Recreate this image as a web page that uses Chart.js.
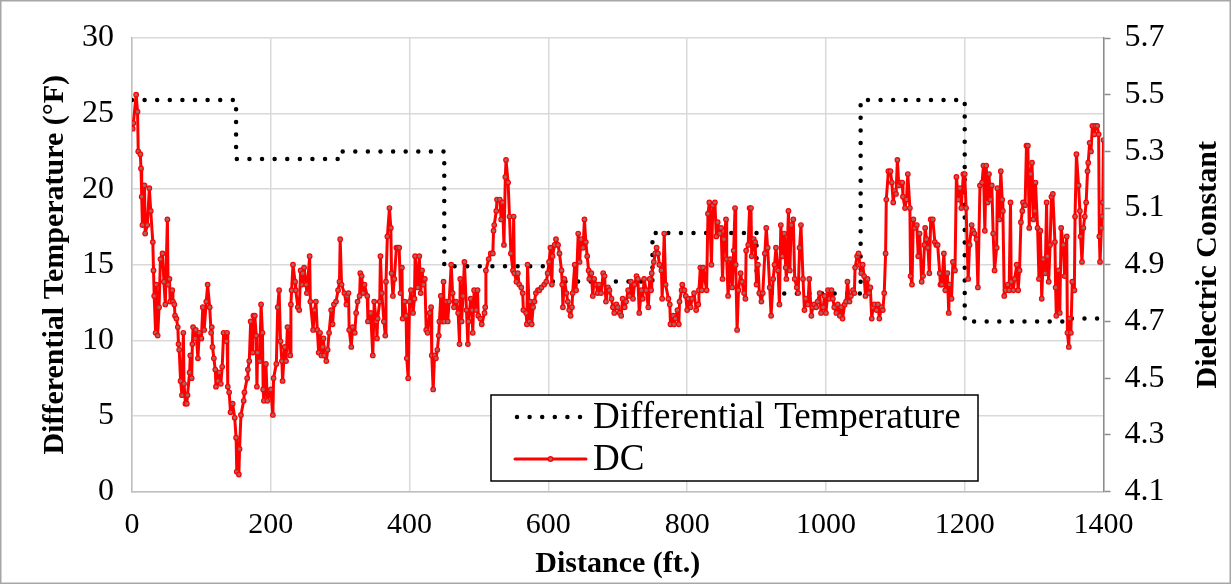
<!DOCTYPE html>
<html>
<head>
<meta charset="utf-8">
<title>Differential Temperature and DC</title>
<script src="https://cdn.jsdelivr.net/npm/chart.js@4.4.1/dist/chart.umd.min.js"></script>
<style>
  html, body { margin: 0; padding: 0; background: #fff; }
  #wrap { width: 1231px; height: 584px; }
</style>
</head>
<body>
<div id="wrap"><canvas id="chart" width="1231" height="584"></canvas></div>
<script>
const distTicks = [0, 200, 400, 600, 800, 1000, 1200, 1400];
const tempTicks = [0, 5, 10, 15, 20, 25, 30];
const dcTicks = [4.1, 4.3, 4.5, 4.7, 4.9, 5.1, 5.3, 5.5, 5.7];

// differential temperature, one level per section
const tempDist = [0, 150, 150, 300, 300, 450, 450, 600, 600, 750, 750, 900, 900, 1050, 1050, 1200, 1200, 1350, 1350, 1400];
const tempVal = [25.9, 25.9, 22.0, 22.0, 22.5, 22.5, 14.9, 14.9, 13.9, 13.9, 17.1, 17.1, 13.1, 13.1, 25.9, 25.9, 11.25, 11.25, 11.45, 11.45];

// dielectric constant readings along the section (ft)
const dcDist = [
  1, 2, 6, 8, 9, 12, 13, 14, 15, 18, 19, 22, 25, 27, 30, 31, 32, 34, 35, 37,
  39, 41, 44, 46, 48, 51, 52, 54, 55, 58, 59, 61, 62, 64, 66, 67, 68, 70, 72, 74,
  75, 77, 79, 80, 83, 84, 86, 87, 88, 91, 92, 95, 97, 100, 102, 104, 107, 109, 112, 114,
  115, 116, 118, 120, 121, 124, 126, 128, 130, 132, 136, 137, 138, 140, 142, 145, 148, 150, 151, 154,
  155, 157, 161, 162, 166, 167, 169, 171, 174, 175, 177, 179, 180, 181, 184, 186, 188, 189, 190, 193,
  195, 200, 203, 204, 208, 210, 212, 214, 216, 217, 220, 222, 224, 228, 229, 230, 232, 235, 236, 239,
  241, 243, 245, 246, 248, 251, 252, 256, 257, 261, 263, 265, 267, 269, 271, 273, 275, 276, 277, 280,
  282, 284, 287, 289, 291, 294, 297, 299, 300, 302, 306, 309, 310, 312, 313, 316, 318, 321, 323, 325,
  328, 329, 331, 333, 335, 339, 340, 344, 347, 349, 352, 353, 354, 357, 358, 360, 363, 365, 366, 368,
  371, 373, 374, 376, 378, 381, 383, 385, 387, 389, 390, 393, 395, 396, 398, 400, 402, 405, 407, 408,
  412, 414, 416, 418, 420, 422, 424, 426, 429, 431, 432, 434, 436, 438, 440, 442, 443, 445, 447, 449,
  450, 453, 455, 457, 460, 462, 464, 467, 470, 472, 473, 475, 477, 479, 482, 484, 485, 488, 490, 491,
  493, 496, 498, 499, 502, 504, 508, 509, 510, 514, 517, 520, 521, 522, 525, 526, 530, 532, 534, 536,
  538, 539, 542, 544, 546, 549, 550, 551, 554, 556, 558, 561, 563, 564, 568, 569, 570, 573, 574, 576,
  578, 580, 582, 585, 587, 590, 594, 597, 599, 601, 603, 605, 606, 609, 611, 614, 616, 619, 620, 621,
  623, 626, 628, 630, 632, 634, 635, 638, 640, 643, 645, 647, 650, 652, 654, 656, 658, 659, 662, 664,
  666, 669, 671, 673, 676, 679, 681, 683, 686, 688, 691, 693, 695, 698, 700, 703, 705, 707, 710, 712,
  715, 717, 719, 722, 724, 727, 729, 731, 734, 736, 738, 741, 744, 746, 748, 749, 752, 754, 756, 758,
  760, 763, 764, 767, 769, 773, 775, 776, 780, 781, 783, 786, 788, 789, 792, 793, 796, 798, 800, 802,
  805, 807, 810, 813, 816, 817, 819, 821, 823, 828, 830, 832, 835, 837, 840, 842, 844, 847, 849, 851,
  853, 856, 857, 859, 862, 865, 867, 869, 870, 872, 874, 877, 879, 882, 884, 885, 888, 890, 892, 893,
  896, 898, 900, 902, 904, 907, 909, 912, 914, 916, 919, 921, 924, 926, 928, 931, 933, 935, 937, 940,
  942, 943, 946, 948, 950, 953, 955, 958, 960, 962, 964, 967, 969, 971, 974, 976, 979, 981, 983, 986,
  988, 991, 993, 996, 998, 1000, 1003, 1005, 1008, 1010, 1012, 1015, 1017, 1020, 1022, 1024, 1027, 1029, 1031, 1034,
  1036, 1039, 1041, 1042, 1045, 1047, 1049, 1051, 1053, 1055, 1057, 1060, 1062, 1064, 1066, 1068, 1070, 1073, 1075, 1077,
  1080, 1082, 1084, 1086, 1087, 1090, 1093, 1095, 1097, 1099, 1101, 1103, 1105, 1108, 1110, 1111, 1114, 1116, 1118, 1121,
  1122, 1124, 1126, 1128, 1131, 1133, 1135, 1138, 1140, 1142, 1143, 1145, 1147, 1149, 1151, 1154, 1157, 1159, 1161, 1164,
  1165, 1167, 1170, 1172, 1175, 1177, 1178, 1181, 1183, 1186, 1188, 1191, 1193, 1195, 1198, 1200, 1202, 1205, 1207, 1210,
  1212, 1214, 1217, 1219, 1222, 1225, 1227, 1229, 1231, 1233, 1235, 1237, 1239, 1241, 1243, 1246, 1247, 1250, 1252, 1254,
  1255, 1257, 1259, 1262, 1264, 1266, 1267, 1270, 1272, 1275, 1277, 1279, 1281, 1283, 1284, 1287, 1289, 1291, 1293, 1295,
  1297, 1299, 1301, 1302, 1305, 1307, 1309, 1311, 1313, 1316, 1318, 1319, 1321, 1323, 1325, 1327, 1330, 1331, 1332, 1335,
  1337, 1339, 1342, 1344, 1347, 1348, 1350, 1351, 1353, 1355, 1358, 1359, 1361, 1364, 1366, 1367, 1369, 1371, 1373, 1375,
  1377, 1378, 1380, 1382, 1384, 1387, 1388, 1391, 1393, 1394, 1395, 1397, 1398, 1399, 1400
];
const dcVal = [
  5.38, 5.40, 5.50, 5.44, 5.30, 5.29, 5.24, 5.14, 5.04, 5.18, 5.01, 5.04, 5.17, 5.09, 4.98, 4.88, 4.79, 4.66, 4.83, 4.65,
  4.75, 4.92, 4.94, 4.84, 4.76, 5.06, 4.83, 4.85, 4.77, 4.81, 4.77, 4.76, 4.72, 4.71, 4.68, 4.62, 4.60, 4.49, 4.44, 4.66,
  4.48, 4.41, 4.41, 4.44, 4.52, 4.58, 4.50, 4.62, 4.68, 4.64, 4.67, 4.57, 4.66, 4.64, 4.75, 4.67, 4.77, 4.83, 4.75, 4.66,
  4.68, 4.61, 4.57, 4.53, 4.47, 4.49, 4.52, 4.48, 4.54, 4.66, 4.63, 4.66, 4.47, 4.45, 4.38, 4.41, 4.36, 4.29, 4.17, 4.16,
  4.25, 4.37, 4.42, 4.45, 4.50, 4.53, 4.56, 4.70, 4.59, 4.72, 4.72, 4.65, 4.47, 4.59, 4.56, 4.76, 4.66, 4.46, 4.42, 4.55,
  4.42, 4.46, 4.37, 4.50, 4.55, 4.75, 4.81, 4.63, 4.56, 4.49, 4.61, 4.56, 4.68, 4.58, 4.76, 4.81, 4.90, 4.84, 4.81, 4.75,
  4.74, 4.88, 4.83, 4.87, 4.89, 4.83, 4.80, 4.93, 4.77, 4.67, 4.74, 4.77, 4.67, 4.59, 4.66, 4.58, 4.61, 4.64, 4.58, 4.56,
  4.60, 4.66, 4.74, 4.69, 4.76, 4.77, 4.81, 4.84, 4.99, 4.83, 4.80, 4.76, 4.79, 4.80, 4.67, 4.61, 4.68, 4.66, 4.73, 4.77,
  4.79, 4.87, 4.86, 4.80, 4.83, 4.79, 4.70, 4.73, 4.58, 4.77, 4.70, 4.64, 4.71, 4.77, 4.93, 4.80, 4.70, 4.65, 4.84, 5.00,
  5.10, 5.03, 4.87, 4.79, 4.85, 4.96, 4.96, 4.96, 4.80, 4.89, 4.71, 4.77, 4.72, 4.57, 4.50, 4.77, 4.81, 4.73, 4.78, 4.93,
  4.82, 4.93, 4.80, 4.88, 4.83, 4.85, 4.67, 4.66, 4.73, 4.75, 4.58, 4.46, 4.58, 4.57, 4.60, 4.65, 4.70, 4.79, 4.70, 4.84,
  4.70, 4.77, 4.70, 4.77, 4.90, 4.80, 4.75, 4.77, 4.73, 4.62, 4.85, 4.70, 4.79, 4.91, 4.74, 4.62, 4.70, 4.78, 4.74, 4.66,
  4.81, 4.74, 4.81, 4.72, 4.71, 4.69, 4.73, 4.75, 4.88, 4.92, 4.94, 4.94, 5.02, 5.04, 5.09, 5.13, 5.13, 5.06, 5.12, 4.97,
  5.21, 5.27, 5.19, 5.07, 4.94, 4.88, 5.07, 4.87, 4.84, 4.87, 4.83, 4.82, 4.80, 4.74, 4.73, 4.69, 4.90, 4.70, 4.77, 4.69,
  4.75, 4.77, 4.80, 4.81, 4.81, 4.82, 4.83, 4.84, 4.87, 4.91, 4.96, 4.83, 4.93, 4.97, 4.99, 4.97, 4.94, 4.88, 4.83, 4.75,
  4.85, 4.80, 4.77, 4.74, 4.72, 4.75, 4.80, 4.90, 4.81, 5.01, 4.91, 4.99, 4.96, 5.06, 4.98, 4.93, 4.88, 4.85, 4.87, 4.79,
  4.85, 4.83, 4.80, 4.83, 4.80, 4.87, 4.86, 4.77, 4.82, 4.81, 4.78, 4.75, 4.73, 4.76, 4.75, 4.73, 4.72, 4.78, 4.75, 4.77,
  4.81, 4.79, 4.84, 4.78, 4.83, 4.86, 4.85, 4.73, 4.81, 4.78, 4.85, 4.81, 4.75, 4.85, 4.81, 4.87, 4.91, 4.94, 4.96, 4.94,
  4.90, 4.88, 4.78, 5.01, 4.83, 4.78, 4.76, 4.69, 4.72, 4.69, 4.71, 4.74, 4.69, 4.77, 4.81, 4.83, 4.81, 4.79, 4.74, 4.78,
  4.75, 4.78, 4.80, 4.74, 4.76, 4.81, 4.89, 4.81, 4.89, 4.81, 5.08, 5.12, 4.90, 5.11, 5.12, 5.00, 5.05, 5.01, 5.03, 4.85,
  4.99, 5.06, 4.92, 4.79, 4.92, 4.82, 4.95, 5.10, 4.90, 4.67, 4.81, 4.87, 4.84, 4.80, 4.78, 4.95, 4.97, 5.10, 5.10, 4.93,
  4.99, 4.98, 4.83, 4.90, 4.80, 4.77, 4.80, 4.94, 5.03, 4.96, 4.82, 4.72, 4.85, 4.90, 4.96, 4.88, 4.76, 5.04, 4.93, 5.01,
  4.89, 4.85, 5.09, 4.88, 5.04, 5.06, 4.85, 4.82, 4.80, 4.96, 5.04, 4.85, 4.74, 4.78, 4.76, 4.85, 4.72, 4.75, 4.76, 4.75,
  4.77, 4.80, 4.73, 4.75, 4.79, 4.73, 4.81, 4.78, 4.81, 4.78, 4.75, 4.73, 4.76, 4.72, 4.75, 4.71, 4.76, 4.77, 4.84, 4.77,
  4.79, 4.81, 4.80, 4.89, 4.93, 4.94, 4.90, 4.87, 4.90, 4.86, 4.79, 4.85, 4.80, 4.82, 4.71, 4.75, 4.76, 4.74, 4.76, 4.71,
  4.75, 4.74, 4.80, 4.94, 5.13, 5.23, 5.23, 5.19, 5.12, 5.16, 5.15, 5.27, 5.18, 5.19, 5.19, 5.14, 5.10, 5.13, 5.22, 5.10,
  4.86, 4.83, 5.06, 5.03, 5.04, 4.93, 5.01, 4.84, 4.86, 4.97, 5.03, 4.99, 4.96, 4.87, 5.06, 5.06, 4.98, 4.97, 4.97, 4.87,
  4.83, 4.83, 4.94, 4.81, 4.87, 4.73, 4.83, 4.78, 4.91, 4.88, 5.21, 5.13, 5.17, 5.10, 5.22, 5.22, 5.10, 4.85, 4.97, 5.04,
  5.02, 5.01, 4.99, 4.82, 5.18, 5.19, 5.25, 5.02, 5.25, 5.12, 5.22, 5.13, 5.18, 5.01, 4.88, 4.96, 5.17, 5.06, 5.23, 5.13,
  5.09, 4.79, 4.81, 4.83, 4.81, 5.12, 4.84, 4.81, 4.85, 4.90, 4.81, 4.88, 5.05, 5.09, 5.12, 5.11, 5.32, 5.32, 5.03, 5.22,
  5.26, 5.06, 5.09, 5.19, 5.03, 4.85, 5.02, 4.78, 4.92, 4.87, 5.12, 4.93, 4.84, 4.97, 5.14, 5.15, 4.98, 4.82, 4.72, 4.88,
  4.73, 5.03, 4.97, 4.86, 5.00, 4.66, 4.61, 4.71, 4.66, 4.84, 4.81, 5.07, 5.29, 5.18, 5.09, 5.00, 4.91, 5.03, 5.07, 5.12,
  5.23, 5.26, 5.33, 5.30, 5.39, 5.36, 5.39, 5.39, 5.36, 5.00, 4.91, 5.03, 5.07, 5.12, 5.34
];

const serif = '"Liberation Serif", "Times New Roman", serif';
Chart.defaults.font.family = serif;
Chart.defaults.color = '#000000';

const toPoints = (xs, ys) => xs.map((x, i) => ({ x: x, y: ys[i] }));

// white page with a thin grey frame round the whole chart
const chartFrame = {
  id: 'chartFrame',
  beforeDraw(chart) {
    const ctx = chart.ctx;
    ctx.save();
    ctx.fillStyle = '#ffffff';
    ctx.fillRect(0, 0, chart.width, chart.height);
    ctx.restore();
  },
  afterDraw(chart) {
    const ctx = chart.ctx;
    ctx.save();
    ctx.strokeStyle = '#a6a6a6';
    ctx.lineWidth = 1.5;
    ctx.strokeRect(0.75, 0.75, chart.width - 1.5, chart.height - 1.5);
    ctx.restore();
  }
};

// secondary axis title reads bottom-to-top like the primary one
const rightTitle = {
  id: 'rightTitle',
  afterDraw(chart) {
    const { ctx, chartArea } = chart;
    ctx.save();
    ctx.translate(1208, (chartArea.top + chartArea.bottom) / 2);
    ctx.rotate(-Math.PI / 2);
    ctx.font = 'bold 30px ' + serif;
    ctx.fillStyle = '#000000';
    ctx.textAlign = 'center';
    ctx.textBaseline = 'middle';
    ctx.fillText('Dielectric Constant', 0, 0);
    ctx.restore();
  }
};

// boxed legend sitting inside the plot
const legendBox = {
  id: 'legendBox',
  afterDraw(chart) {
    const ctx = chart.ctx;
    const dt = chart.data.datasets[0];
    const dc = chart.data.datasets[1];
    const box = { x: 491, y: 395, w: 487, h: 86 };
    ctx.save();
    ctx.fillStyle = '#ffffff';
    ctx.fillRect(box.x, box.y, box.w, box.h);
    ctx.strokeStyle = '#000000';
    ctx.lineWidth = 1.5;
    ctx.strokeRect(box.x, box.y, box.w, box.h);

    const row1 = box.y + 22, row2 = box.y + 64;
    ctx.strokeStyle = dt.borderColor;
    ctx.lineWidth = dt.borderWidth;
    ctx.lineCap = 'round';
    ctx.setLineDash(dt.borderDash);
    ctx.beginPath();
    ctx.moveTo(517, row1);
    ctx.lineTo(582, row1);
    ctx.stroke();

    ctx.setLineDash([]);
    ctx.strokeStyle = dc.borderColor;
    ctx.lineWidth = dc.borderWidth;
    ctx.beginPath();
    ctx.moveTo(515, row2);
    ctx.lineTo(586, row2);
    ctx.stroke();
    ctx.beginPath();
    ctx.arc(550.5, row2, dc.pointRadius, 0, Math.PI * 2);
    ctx.fillStyle = dc.pointBackgroundColor;
    ctx.fill();
    ctx.lineWidth = dc.pointBorderWidth;
    ctx.strokeStyle = dc.pointBorderColor;
    ctx.stroke();

    ctx.fillStyle = '#000000';
    ctx.font = '37px ' + serif;
    ctx.textAlign = 'left';
    ctx.textBaseline = 'middle';
    ctx.fillText(dt.label, 593, row1 + 1);
    ctx.fillText(dc.label, 593, row2 + 1);
    ctx.restore();
  }
};

new Chart(document.getElementById('chart'), {
  type: 'line',
  data: {
    datasets: [
      {
        label: 'Differential Temperature',
        data: toPoints(tempDist, tempVal),
        yAxisID: 'y',
        borderColor: '#000000',
        borderWidth: 4.5,
        borderDash: [0, 12.6],
        borderCapStyle: 'round',
        pointRadius: 0,
        fill: false,
        order: 2
      },
      {
        label: 'DC',
        data: toPoints(dcDist, dcVal),
        yAxisID: 'y1',
        borderColor: '#ff0000',
        borderWidth: 3,
        borderJoinStyle: 'round',
        pointRadius: 2.3,
        pointBackgroundColor: '#a86464',
        pointBorderColor: '#ff0000',
        pointBorderWidth: 1.2,
        fill: false,
        order: 1
      }
    ]
  },
  options: {
    responsive: false,
    animation: false,
    events: [],
    layout: { padding: { top: 38, left: 0, right: 0, bottom: 0 } },
    plugins: { legend: { display: false }, tooltip: { enabled: false } },
    scales: {
      x: {
        type: 'linear',
        min: 0,
        max: 1400,
        afterBuildTicks: s => { s.ticks = distTicks.map(v => ({ value: v })); },
        afterFit: s => { s.height = 92.5; },
        grid: { color: '#d9d9d9', lineWidth: 1.5, drawTicks: false },
        border: { color: '#bfbfbf', width: 1.5 },
        ticks: { font: { size: 30 }, padding: 16, maxRotation: 0, callback: v => String(v) },
        title: { display: true, text: 'Distance (ft.)', font: { size: 30, weight: 'bold' }, padding: { top: 0, bottom: 2 } }
      },
      y: {
        position: 'left',
        min: 0,
        max: 30,
        afterBuildTicks: s => { s.ticks = tempTicks.map(v => ({ value: v })); },
        afterFit: s => { s.width = 132; },
        grid: { color: '#d9d9d9', lineWidth: 1.5, drawTicks: false },
        border: { color: '#bfbfbf', width: 1.5 },
        ticks: { font: { size: 32 }, padding: 18 },
        title: { display: true, text: 'Differential Temperature (°F)', font: { size: 30, weight: 'bold' }, padding: { top: 37, bottom: 0 } }
      },
      y1: {
        position: 'right',
        min: 4.1,
        max: 5.7,
        afterBuildTicks: s => { s.ticks = dcTicks.map(v => ({ value: v })); },
        afterFit: s => { s.width = 127.5; },
        grid: { drawOnChartArea: false, drawTicks: true, tickLength: 7, tickColor: '#8c8c8c', tickWidth: 1.5 },
        border: { color: '#8c8c8c', width: 1.5 },
        ticks: { font: { size: 32 }, padding: 14, callback: v => v.toFixed(1) }
      }
    }
  },
  plugins: [chartFrame, rightTitle, legendBox]
});
</script>
</body>
</html>
